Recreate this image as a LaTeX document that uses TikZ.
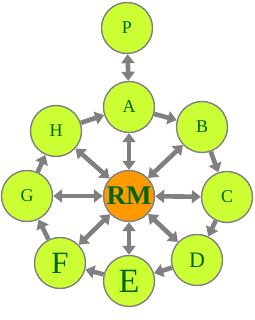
\documentclass[tikz,border=0pt]{standalone}
\usepackage{fontspec}
\setmainfont{Liberation Serif}
\usetikzlibrary{arrows.meta}
\definecolor{limefill}{HTML}{CCFF33}
\definecolor{hubfill}{HTML}{FF9900}
\definecolor{lettergreen}{HTML}{006600}
\definecolor{linkgray}{HTML}{808080}

\begin{document}
\begin{tikzpicture}[
    x=1pt, y=1pt,
    >={Triangle[length=9pt, width=13pt]},
    station/.style={circle, draw=linkgray, line width=1.4pt, fill=limefill,
        minimum size=51pt, inner sep=0pt, text=lettergreen,
        font=\fontsize{18}{18}\selectfont},
    hub/.style={station, fill=hubfill, font=\fontsize{27}{27}\selectfont\bfseries},
    link/.style={draw=linkgray, line width=4.6pt}
]
\useasboundingbox (0,0) rectangle (254,320);
% Stations
\node[station] (P) at (127,292) {P};
\node[station] (A) at (129,213) {A};
\node[station] (B) at (202,193) {B};
\node[station] (C) at (227,123) {C};
\node[station, font=\fontsize{22}{22}\selectfont] (D) at (197,60) {D};
\node[station, font=\fontsize{34}{34}\selectfont] (E) at (129,39) {E};
\node[station, font=\fontsize{31}{31}\selectfont] (F) at (60,57) {F};
\node[station] (G) at (27,124) {G};
\node[station] (H) at (56,189) {H};
% Hub
\node[hub] (RM) at (129,124) {RM};
% Top link
\draw[link, <->] (P) -- (A);
% Outer ring, one way round
\foreach \from/\to in {H/A, A/B, B/C, C/D, D/E, E/F, F/G, G/H}
  \draw[link, ->] (\from) -- (\to);
% Spokes from the hub
\foreach \n in {A,B,C,D,E,F,G,H}
  \draw[link, <->] (RM) -- (\n);
\end{tikzpicture}
\end{document}
